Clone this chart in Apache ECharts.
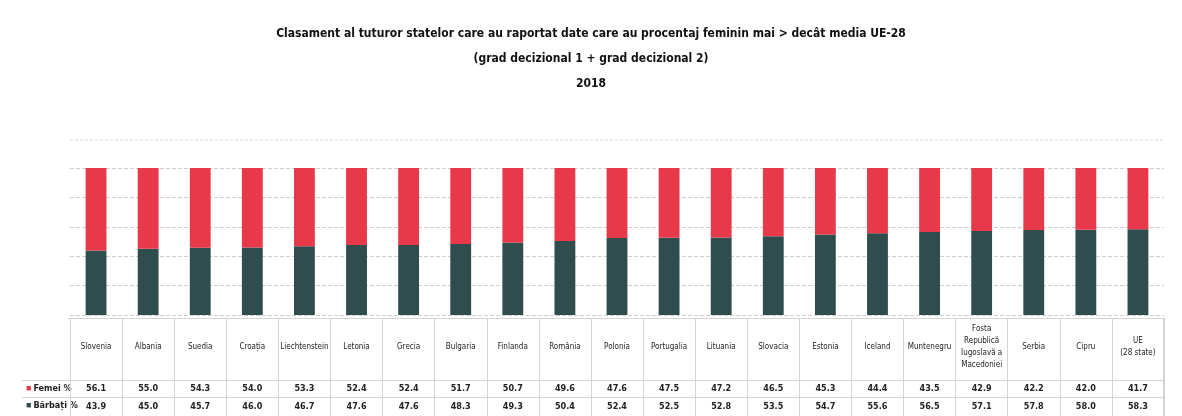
<!DOCTYPE html>
<html>
<head>
<meta charset="utf-8">
<script src="https://cdn.jsdelivr.net/npm/echarts@6/dist/echarts.min.js"></script>
<style>
  html, body { margin: 0; padding: 0; background: #fff; }
  #mychart { width: 1182px; height: 416px; }
</style>
</head>
<body>
<div id="mychart"></div>
<script>
var categories = ['Slovenia', 'Albania', 'Suedia', 'Croația', 'Liechtenstein', 'Letonia', 'Grecia',
    'Bulgaria', 'Finlanda', 'România', 'Polonia', 'Portugalia', 'Lituania', 'Slovacia', 'Estonia',
    'Iceland', 'Muntenegru', 'Fosta\nRepublică\nIugoslavă a\nMacedoniei', 'Serbia', 'Cipru', 'UE\n(28 state)'];
var femei = [56.1, 55.0, 54.3, 54.0, 53.3, 52.4, 52.4, 51.7, 50.7, 49.6, 47.6,
    47.5, 47.2, 46.5, 45.3, 44.4, 43.5, 42.9, 42.2, 42.0, 41.7];
var barbati = [43.9, 45.0, 45.7, 46.0, 46.7, 47.6, 47.6, 48.3, 49.3, 50.4, 52.4,
    52.5, 52.8, 53.5, 54.7, 55.6, 56.5, 57.1, 57.8, 58.0, 58.3];
var titleLines = ['Clasament al tuturor statelor care au raportat date care au procentaj feminin mai > decât media UE-28',
    '(grad decizional 1 + grad decizional 2)', '2018'];

var RED = '#e8394b';
var GREEN = '#2f4d4d';
var FONT = '"Liberation Sans Narrow", "DejaVu Sans Condensed", sans-serif';

var dom = document.getElementById('mychart');
var myChart = echarts.init(dom);

function valueAxis(margin, values) {
    return {
        type: 'category',
        data: categories,
        gridIndex: 0,
        position: 'bottom',
        axisLine: { show: false },
        axisTick: { show: false },
        axisLabel: {
            margin: margin,
            verticalAlign: 'middle',
            fontFamily: FONT,
            fontSize: 9,
            fontWeight: 'bold',
            color: '#222',
            interval: 0,
            formatter: function (v, i) { return values[i].toFixed(1); }
        }
    };
}

var option = {
    animation: false,
    backgroundColor: '#fff',
    title: {
        text: titleLines.join('\n'),
        left: 'center',
        top: 16,
        textStyle: {
            fontFamily: FONT,
            fontSize: 12,
            fontWeight: 'bold',
            color: '#111',
            lineHeight: 25
        }
    },
    grid: [
        { left: 70, right: 18, top: 168, bottom: 101 },
        { left: 70, right: 18, top: 318, bottom: 0 }
    ],
    xAxis: [
        {
            type: 'category',
            data: categories,
            gridIndex: 0,
            position: 'bottom',
            axisLine: { show: false },
            axisTick: { show: false },
            axisLabel: {
                margin: 32,
                verticalAlign: 'middle',
                fontFamily: FONT,
                fontSize: 8,
                lineHeight: 12,
                color: '#222',
                interval: 0
            }
        },
        valueAxis(74, femei),
        valueAxis(92, barbati),
        {
            type: 'category',
            data: categories,
            gridIndex: 1,
            position: 'bottom',
            axisLine: { show: false },
            axisTick: { show: false },
            axisLabel: { show: false },
            splitLine: { show: true, interval: 0, lineStyle: { color: '#d4d4d4', width: 1 } }
        }
    ],
    yAxis: [
        {
            type: 'value',
            gridIndex: 0,
            min: 0,
            max: 100,
            interval: 20,
            axisLabel: { show: false },
            axisLine: { show: false },
            axisTick: { show: false },
            splitLine: { lineStyle: { color: '#cfcfcf', type: 'dashed', width: 1 } }
        },
        {
            type: 'value',
            gridIndex: 1,
            show: false,
            splitLine: { show: false }
        }
    ],
    series: [
        {
            name: 'Bărbați %',
            type: 'bar',
            stack: 'total',
            barWidth: '40%',
            xAxisIndex: 0,
            yAxisIndex: 0,
            itemStyle: { color: GREEN },
            data: barbati
        },
        {
            name: 'Femei %',
            type: 'bar',
            stack: 'total',
            xAxisIndex: 0,
            yAxisIndex: 0,
            itemStyle: { color: RED },
            data: femei
        }
    ],
    graphic: [
        { type: 'line', shape: { x1: 70, y1: 140, x2: 1164, y2: 140 },
          style: { stroke: '#d8d8d8', lineWidth: 1, lineDash: [3, 2] } },
        { type: 'line', shape: { x1: 68, y1: 318.5, x2: 1164, y2: 318.5 },
          style: { stroke: '#d4d4d4', lineWidth: 1 } },
        { type: 'line', shape: { x1: 22, y1: 380.5, x2: 1164, y2: 380.5 },
          style: { stroke: '#d4d4d4', lineWidth: 1 } },
        { type: 'line', shape: { x1: 22, y1: 397.5, x2: 1164, y2: 397.5 },
          style: { stroke: '#d4d4d4', lineWidth: 1 } },
        { type: 'line', shape: { x1: 70.5, y1: 318, x2: 70.5, y2: 416 },
          style: { stroke: '#d4d4d4', lineWidth: 1 } },
        { type: 'line', shape: { x1: 1163.5, y1: 318, x2: 1163.5, y2: 416 },
          style: { stroke: '#d4d4d4', lineWidth: 1 } },
        { type: 'text', left: 26, top: 384,
          style: { text: '{r|■}Femei %', fontFamily: FONT, fontSize: 9, fontWeight: 'bold', fill: '#222',
            rich: { r: { fill: RED, fontSize: 9, padding: [0, 2, 0, 0] } } } },
        { type: 'text', left: 26, top: 401,
          style: { text: '{g|■}Bărbați %', fontFamily: FONT, fontSize: 9, fontWeight: 'bold', fill: '#222',
            rich: { g: { fill: GREEN, fontSize: 9, padding: [0, 2, 0, 0] } } } }
    ]
};

if (option && typeof option === 'object') {
    myChart.setOption(option);
}
</script>
</body>
</html>
